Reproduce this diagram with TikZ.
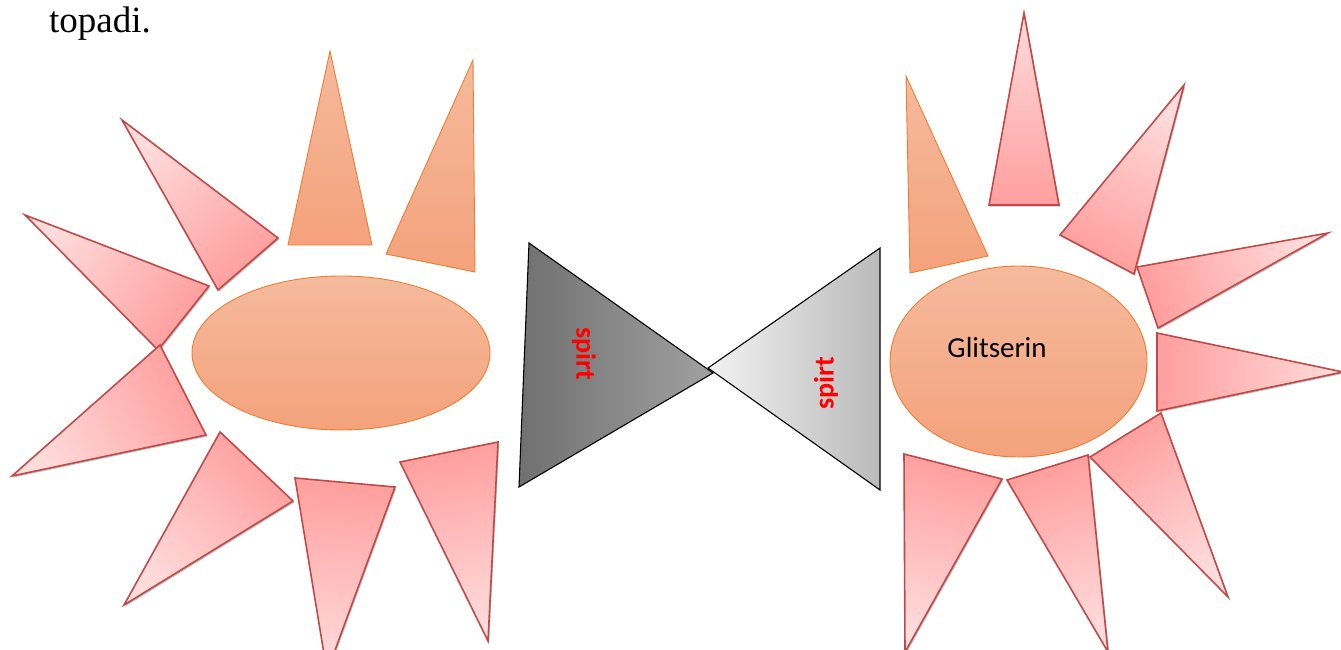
\documentclass[tikz,border=0pt]{standalone}
\usepackage{fontspec}
\setmainfont{Liberation Serif}
\newfontfamily\calfont{Carlito}
\usetikzlibrary{shadows}
\definecolor{pinkE}{HTML}{BE4B48}
\definecolor{pinkL}{HTML}{FFDCDC}
\definecolor{pinkD}{HTML}{FF9E9E}
\definecolor{orE}{HTML}{ED7D31}
\definecolor{orL}{HTML}{F5BA9D}
\definecolor{orD}{HTML}{F4A27B}
\tikzset{
  pinktri/.style={draw=pinkE, line width=1.6pt, line join=miter,
    top color=pinkL, bottom color=pinkD,
    drop shadow={shadow xshift=1.2pt, shadow yshift=-1.5pt, opacity=0.25, fill=black}},
  ortri/.style={draw=orE, line width=0.9pt, top color=orL, bottom color=orD},
  bowdark/.style={draw=black, line width=1.1pt, left color=black!56, right color=black!37},
  bowlight/.style={draw=black, line width=1.1pt, left color=black!5, right color=black!27},
  spirtlbl/.style={text=red, font=\calfont\bfseries\fontsize{28}{32}\selectfont, inner sep=0pt}
}
\newcommand{\ptri}[6]{%
  \pgfmathsetmacro\ptang{atan2(-(#2-(#4+#6)/2), #1-(#3+#5)/2)-90}%
  \path[pinktri, shading angle=\ptang] (#1,#2) -- (#3,#4) -- (#5,#6) -- cycle;}
\begin{document}
\begin{tikzpicture}[x=1pt,y=-1pt]
\useasboundingbox (0,0) rectangle (1341,650);
\fill[white] (0,0) rectangle (1341,650);

\node[anchor=base west, inner sep=0pt, font=\fontsize{37}{40}\selectfont] (topadi) at (49,33) {topadi.};

% ---- left sun ----
\path[ortri] (341,353) ellipse [x radius=149pt, y radius=77pt];
\path[ortri] (330,51) -- (288,245) -- (372,245) -- cycle;
\path[ortri] (473,60) -- (386,254) -- (475,272) -- cycle;
\ptri{25}{215}{209}{286}{158}{350}
\ptri{122}{120}{278}{238}{218}{290}
\ptri{12}{476}{160}{345}{206}{435}
\ptri{124}{605}{220}{432}{293}{501}
\ptri{327}{672}{295}{478}{395}{487}
\ptri{488}{641}{400}{462}{498}{442}

% ---- bow tie ----
\path[bowdark] (529,243) -- (713,373) -- (519,487) -- cycle;
\path[bowlight] (880,248) -- (880,490) -- (708,368) -- cycle;
\node[spirtlbl, rotate=-90] (sL) at (584,354) {spirt};
\node[spirtlbl, rotate=90] (sR) at (826,383) {spirt};

% ---- right sun ----
\path[ortri] (1018.5,361.5) ellipse [x radius=128.5pt, y radius=95.5pt];
\node[anchor=base, inner sep=0pt, font=\calfont\fontsize{29}{34}\selectfont] (glit) at (997,357) {Glitserin};
\path[ortri] (906,76) -- (910,273) -- (988,256) -- cycle;
\ptri{1024}{13}{989}{205}{1059}{205}
\ptri{1184}{85}{1060}{235}{1134}{274}
\ptri{1328}{233}{1137}{267}{1158}{328}
\ptri{1343}{372}{1157}{333}{1157}{411}
\ptri{1228}{597}{1090}{457}{1161}{413}
\ptri{1108}{652}{1007}{480}{1088}{455}
\ptri{905}{652}{904}{454}{1002}{479}
\end{tikzpicture}
\end{document}
